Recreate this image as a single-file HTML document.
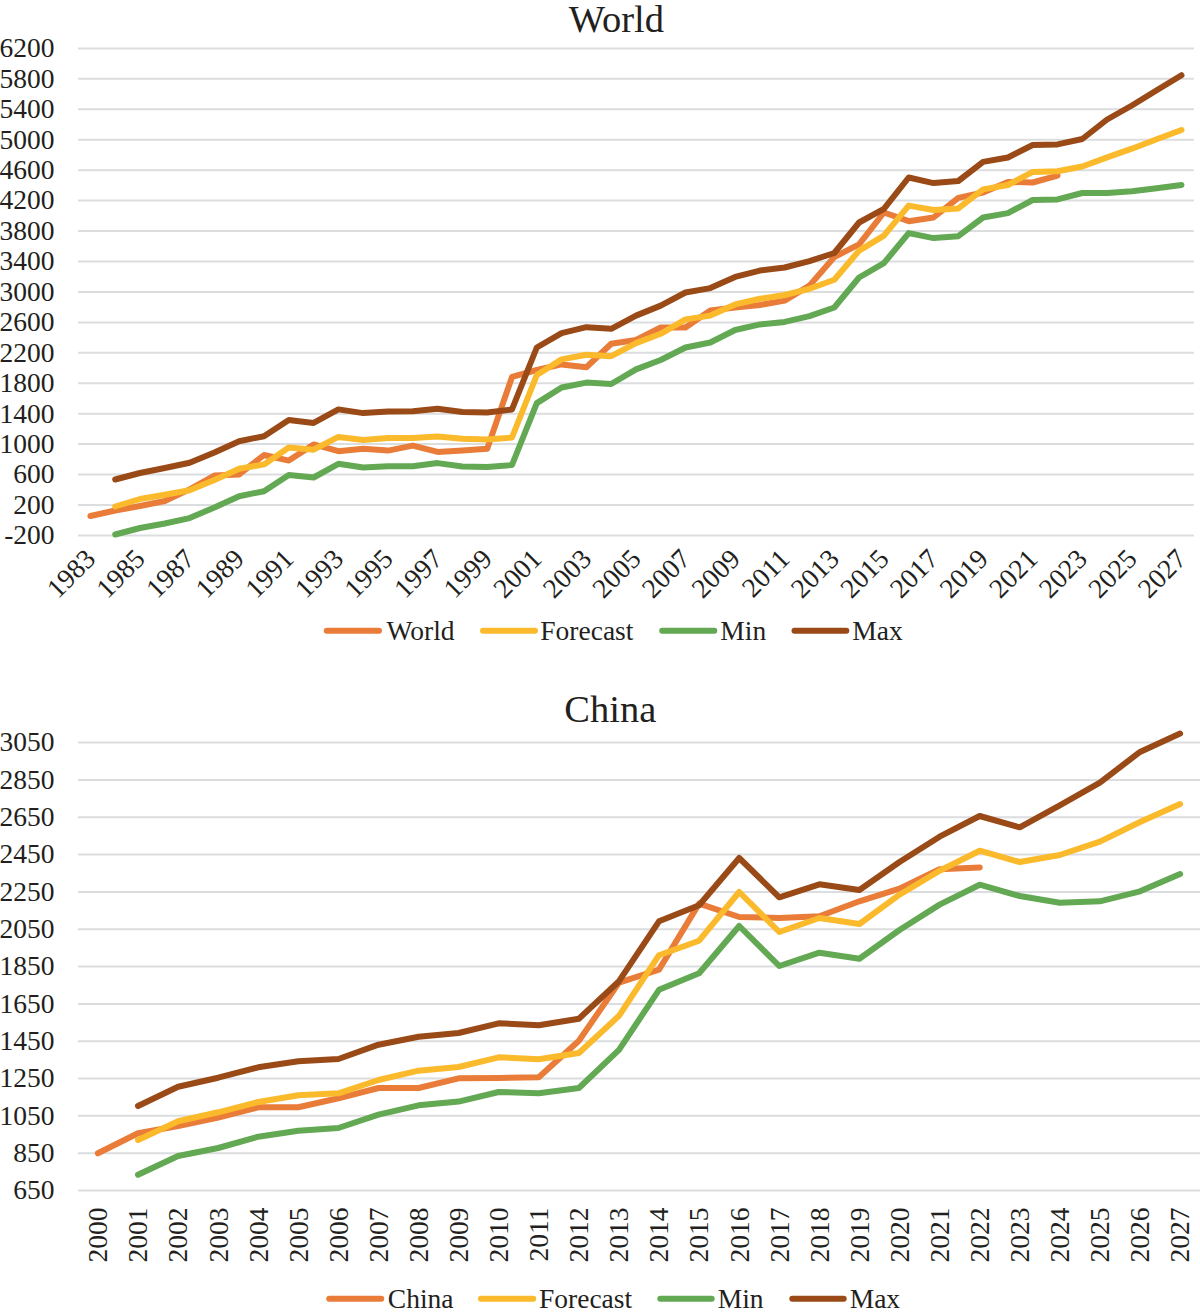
<!DOCTYPE html><html><head><meta charset="utf-8"><title>World and China charts</title>
<style>html,body{margin:0;padding:0;background:#fff;width:1200px;height:1316px;overflow:hidden}svg{display:block} text{font-family:"Liberation Serif", serif;fill:#231F20}</style></head><body>
<svg width="1200" height="1316" viewBox="0 0 1200 1316">
<rect width="1200" height="1316" fill="#fff"/>
<text x="616.3" y="32" font-size="38.5" text-anchor="middle">World</text>
<line x1="78.0" y1="48.4" x2="1193.9" y2="48.4" stroke="#DCDDDF" stroke-width="2"/>
<text x="54.6" y="57.2" font-size="27.5" text-anchor="end">6200</text>
<line x1="78.0" y1="78.8" x2="1193.9" y2="78.8" stroke="#DCDDDF" stroke-width="2"/>
<text x="54.6" y="87.6" font-size="27.5" text-anchor="end">5800</text>
<line x1="78.0" y1="109.3" x2="1193.9" y2="109.3" stroke="#DCDDDF" stroke-width="2"/>
<text x="54.6" y="118.1" font-size="27.5" text-anchor="end">5400</text>
<line x1="78.0" y1="139.7" x2="1193.9" y2="139.7" stroke="#DCDDDF" stroke-width="2"/>
<text x="54.6" y="148.5" font-size="27.5" text-anchor="end">5000</text>
<line x1="78.0" y1="170.2" x2="1193.9" y2="170.2" stroke="#DCDDDF" stroke-width="2"/>
<text x="54.6" y="179.0" font-size="27.5" text-anchor="end">4600</text>
<line x1="78.0" y1="200.6" x2="1193.9" y2="200.6" stroke="#DCDDDF" stroke-width="2"/>
<text x="54.6" y="209.4" font-size="27.5" text-anchor="end">4200</text>
<line x1="78.0" y1="231.0" x2="1193.9" y2="231.0" stroke="#DCDDDF" stroke-width="2"/>
<text x="54.6" y="239.8" font-size="27.5" text-anchor="end">3800</text>
<line x1="78.0" y1="261.5" x2="1193.9" y2="261.5" stroke="#DCDDDF" stroke-width="2"/>
<text x="54.6" y="270.3" font-size="27.5" text-anchor="end">3400</text>
<line x1="78.0" y1="291.9" x2="1193.9" y2="291.9" stroke="#DCDDDF" stroke-width="2"/>
<text x="54.6" y="300.7" font-size="27.5" text-anchor="end">3000</text>
<line x1="78.0" y1="322.4" x2="1193.9" y2="322.4" stroke="#DCDDDF" stroke-width="2"/>
<text x="54.6" y="331.2" font-size="27.5" text-anchor="end">2600</text>
<line x1="78.0" y1="352.8" x2="1193.9" y2="352.8" stroke="#DCDDDF" stroke-width="2"/>
<text x="54.6" y="361.6" font-size="27.5" text-anchor="end">2200</text>
<line x1="78.0" y1="383.2" x2="1193.9" y2="383.2" stroke="#DCDDDF" stroke-width="2"/>
<text x="54.6" y="392.0" font-size="27.5" text-anchor="end">1800</text>
<line x1="78.0" y1="413.7" x2="1193.9" y2="413.7" stroke="#DCDDDF" stroke-width="2"/>
<text x="54.6" y="422.5" font-size="27.5" text-anchor="end">1400</text>
<line x1="78.0" y1="444.1" x2="1193.9" y2="444.1" stroke="#DCDDDF" stroke-width="2"/>
<text x="54.6" y="452.9" font-size="27.5" text-anchor="end">1000</text>
<line x1="78.0" y1="474.6" x2="1193.9" y2="474.6" stroke="#DCDDDF" stroke-width="2"/>
<text x="54.6" y="483.4" font-size="27.5" text-anchor="end">600</text>
<line x1="78.0" y1="505.0" x2="1193.9" y2="505.0" stroke="#DCDDDF" stroke-width="2"/>
<text x="54.6" y="513.8" font-size="27.5" text-anchor="end">200</text>
<line x1="78.0" y1="535.4" x2="1193.9" y2="535.4" stroke="#DCDDDF" stroke-width="2"/>
<text x="54.6" y="544.2" font-size="27.5" text-anchor="end">-200</text>
<text transform="translate(96.9,560.6) rotate(-45)" font-size="27.5" text-anchor="end">1983</text>
<text transform="translate(146.5,560.6) rotate(-45)" font-size="27.5" text-anchor="end">1985</text>
<text transform="translate(196.1,560.6) rotate(-45)" font-size="27.5" text-anchor="end">1987</text>
<text transform="translate(245.7,560.6) rotate(-45)" font-size="27.5" text-anchor="end">1989</text>
<text transform="translate(295.3,560.6) rotate(-45)" font-size="27.5" text-anchor="end">1991</text>
<text transform="translate(344.9,560.6) rotate(-45)" font-size="27.5" text-anchor="end">1993</text>
<text transform="translate(394.5,560.6) rotate(-45)" font-size="27.5" text-anchor="end">1995</text>
<text transform="translate(444.1,560.6) rotate(-45)" font-size="27.5" text-anchor="end">1997</text>
<text transform="translate(493.7,560.6) rotate(-45)" font-size="27.5" text-anchor="end">1999</text>
<text transform="translate(543.3,560.6) rotate(-45)" font-size="27.5" text-anchor="end">2001</text>
<text transform="translate(592.9,560.6) rotate(-45)" font-size="27.5" text-anchor="end">2003</text>
<text transform="translate(642.5,560.6) rotate(-45)" font-size="27.5" text-anchor="end">2005</text>
<text transform="translate(692.0,560.6) rotate(-45)" font-size="27.5" text-anchor="end">2007</text>
<text transform="translate(741.6,560.6) rotate(-45)" font-size="27.5" text-anchor="end">2009</text>
<text transform="translate(791.2,560.6) rotate(-45)" font-size="27.5" text-anchor="end">2011</text>
<text transform="translate(840.8,560.6) rotate(-45)" font-size="27.5" text-anchor="end">2013</text>
<text transform="translate(890.4,560.6) rotate(-45)" font-size="27.5" text-anchor="end">2015</text>
<text transform="translate(940.0,560.6) rotate(-45)" font-size="27.5" text-anchor="end">2017</text>
<text transform="translate(989.6,560.6) rotate(-45)" font-size="27.5" text-anchor="end">2019</text>
<text transform="translate(1039.2,560.6) rotate(-45)" font-size="27.5" text-anchor="end">2021</text>
<text transform="translate(1088.8,560.6) rotate(-45)" font-size="27.5" text-anchor="end">2023</text>
<text transform="translate(1138.4,560.6) rotate(-45)" font-size="27.5" text-anchor="end">2025</text>
<text transform="translate(1188.0,560.6) rotate(-45)" font-size="27.5" text-anchor="end">2027</text>
<polyline points="90.4,516.0 115.2,510.5 140.0,506.0 164.8,501.0 189.6,489.4 214.4,475.6 239.2,474.4 264.0,455.0 288.8,460.6 313.6,444.4 338.4,451.2 363.2,448.8 388.0,450.6 412.8,445.6 437.6,451.9 462.4,450.6 487.2,448.8 512.0,376.9 536.8,370.0 561.6,364.4 586.4,367.3 611.2,343.8 636.0,340.0 660.7,327.5 685.5,327.5 710.3,310.4 735.1,307.5 759.9,305.0 784.7,300.6 809.5,285.6 834.3,257.0 859.1,244.4 883.9,212.5 908.7,221.2 933.5,217.5 958.3,197.9 983.1,192.5 1007.9,181.9 1032.7,182.5 1057.5,175.6" fill="none" stroke="#E97C38" stroke-width="6.0" stroke-linejoin="round" stroke-linecap="round"/>
<polyline points="115.2,506.5 140.0,499.0 164.8,494.8 189.6,490.3 214.4,480.0 239.2,468.8 264.0,464.4 288.8,447.5 313.6,449.7 338.4,436.9 363.2,440.0 388.0,438.1 412.8,438.1 437.6,436.5 462.4,438.8 487.2,439.4 512.0,437.5 536.8,375.0 561.6,359.4 586.4,354.7 611.2,356.2 636.0,343.1 660.7,333.8 685.5,319.4 710.3,315.6 735.1,304.4 759.9,298.8 784.7,295.0 809.5,288.8 834.3,279.7 859.1,250.6 883.9,235.6 908.7,205.6 933.5,210.0 958.3,208.4 983.1,189.4 1007.9,185.0 1032.7,171.9 1057.5,171.2 1082.3,166.5 1107.1,157.4 1131.9,148.7 1156.7,139.3 1181.5,130.0" fill="none" stroke="#FABA2B" stroke-width="6.0" stroke-linejoin="round" stroke-linecap="round"/>
<polyline points="115.2,534.5 140.0,528.0 164.8,523.5 189.6,518.1 214.4,507.5 239.2,496.2 264.0,491.2 288.8,475.0 313.6,477.5 338.4,463.8 363.2,467.5 388.0,466.2 412.8,466.2 437.6,463.1 462.4,466.5 487.2,466.9 512.0,465.0 536.8,403.1 561.6,387.5 586.4,382.6 611.2,384.0 636.0,369.4 660.7,360.0 685.5,347.5 710.3,342.5 735.1,330.0 759.9,324.4 784.7,321.9 809.5,316.2 834.3,307.5 859.1,277.5 883.9,263.1 908.7,233.1 933.5,238.1 958.3,236.2 983.1,217.5 1007.9,213.1 1032.7,200.0 1057.5,199.4 1082.3,193.0 1107.1,193.0 1131.9,191.2 1156.7,188.3 1181.5,185.1" fill="none" stroke="#63A853" stroke-width="6.0" stroke-linejoin="round" stroke-linecap="round"/>
<polyline points="115.2,479.5 140.0,473.0 164.8,468.0 189.6,462.8 214.4,452.5 239.2,441.2 264.0,436.2 288.8,420.0 313.6,422.9 338.4,409.4 363.2,413.1 388.0,411.5 412.8,411.2 437.6,408.8 462.4,412.0 487.2,412.5 512.0,409.4 536.8,347.5 561.6,333.1 586.4,327.2 611.2,328.8 636.0,315.6 660.7,305.6 685.5,292.5 710.3,288.1 735.1,276.9 759.9,270.6 784.7,267.5 809.5,261.2 834.3,253.0 859.1,222.5 883.9,208.8 908.7,177.5 933.5,183.1 958.3,181.0 983.1,161.9 1007.9,157.5 1032.7,145.0 1057.5,144.4 1082.3,139.0 1107.1,119.5 1131.9,105.5 1156.7,90.3 1181.5,75.2" fill="none" stroke="#9A4A17" stroke-width="6.0" stroke-linejoin="round" stroke-linecap="round"/>
<line x1="326.75" y1="630.8" x2="379" y2="630.8" stroke="#E97C38" stroke-width="6.0" stroke-linecap="round"/>
<text x="386.5" y="640.0999999999999" font-size="27.5">World</text>
<line x1="483" y1="630.8" x2="535" y2="630.8" stroke="#FABA2B" stroke-width="6.0" stroke-linecap="round"/>
<text x="540.3" y="640.0999999999999" font-size="27.5">Forecast</text>
<line x1="662.2" y1="630.8" x2="714.3" y2="630.8" stroke="#63A853" stroke-width="6.0" stroke-linecap="round"/>
<text x="720.3" y="640.0999999999999" font-size="27.5">Min</text>
<line x1="794.5" y1="630.8" x2="846.3" y2="630.8" stroke="#9A4A17" stroke-width="6.0" stroke-linecap="round"/>
<text x="852.3" y="640.0999999999999" font-size="27.5">Max</text>
<text x="610.3" y="722" font-size="38.5" text-anchor="middle">China</text>
<line x1="77.9" y1="742.6" x2="1200.1" y2="742.6" stroke="#DCDDDF" stroke-width="2"/>
<text x="54.6" y="751.4" font-size="27.5" text-anchor="end">3050</text>
<line x1="77.9" y1="779.9" x2="1200.1" y2="779.9" stroke="#DCDDDF" stroke-width="2"/>
<text x="54.6" y="788.7" font-size="27.5" text-anchor="end">2850</text>
<line x1="77.9" y1="817.2" x2="1200.1" y2="817.2" stroke="#DCDDDF" stroke-width="2"/>
<text x="54.6" y="826.0" font-size="27.5" text-anchor="end">2650</text>
<line x1="77.9" y1="854.6" x2="1200.1" y2="854.6" stroke="#DCDDDF" stroke-width="2"/>
<text x="54.6" y="863.4" font-size="27.5" text-anchor="end">2450</text>
<line x1="77.9" y1="891.9" x2="1200.1" y2="891.9" stroke="#DCDDDF" stroke-width="2"/>
<text x="54.6" y="900.7" font-size="27.5" text-anchor="end">2250</text>
<line x1="77.9" y1="929.2" x2="1200.1" y2="929.2" stroke="#DCDDDF" stroke-width="2"/>
<text x="54.6" y="938.0" font-size="27.5" text-anchor="end">2050</text>
<line x1="77.9" y1="966.6" x2="1200.1" y2="966.6" stroke="#DCDDDF" stroke-width="2"/>
<text x="54.6" y="975.4" font-size="27.5" text-anchor="end">1850</text>
<line x1="77.9" y1="1003.9" x2="1200.1" y2="1003.9" stroke="#DCDDDF" stroke-width="2"/>
<text x="54.6" y="1012.7" font-size="27.5" text-anchor="end">1650</text>
<line x1="77.9" y1="1041.2" x2="1200.1" y2="1041.2" stroke="#DCDDDF" stroke-width="2"/>
<text x="54.6" y="1050.0" font-size="27.5" text-anchor="end">1450</text>
<line x1="77.9" y1="1078.5" x2="1200.1" y2="1078.5" stroke="#DCDDDF" stroke-width="2"/>
<text x="54.6" y="1087.3" font-size="27.5" text-anchor="end">1250</text>
<line x1="77.9" y1="1115.8" x2="1200.1" y2="1115.8" stroke="#DCDDDF" stroke-width="2"/>
<text x="54.6" y="1124.6" font-size="27.5" text-anchor="end">1050</text>
<line x1="77.9" y1="1153.2" x2="1200.1" y2="1153.2" stroke="#DCDDDF" stroke-width="2"/>
<text x="54.6" y="1162.0" font-size="27.5" text-anchor="end">850</text>
<line x1="77.9" y1="1190.5" x2="1200.1" y2="1190.5" stroke="#DCDDDF" stroke-width="2"/>
<text x="54.6" y="1199.3" font-size="27.5" text-anchor="end">650</text>
<text transform="translate(107.2,1207.4) rotate(-90)" font-size="27.5" text-anchor="end">2000</text>
<text transform="translate(147.3,1207.4) rotate(-90)" font-size="27.5" text-anchor="end">2001</text>
<text transform="translate(187.4,1207.4) rotate(-90)" font-size="27.5" text-anchor="end">2002</text>
<text transform="translate(227.5,1207.4) rotate(-90)" font-size="27.5" text-anchor="end">2003</text>
<text transform="translate(267.6,1207.4) rotate(-90)" font-size="27.5" text-anchor="end">2004</text>
<text transform="translate(307.6,1207.4) rotate(-90)" font-size="27.5" text-anchor="end">2005</text>
<text transform="translate(347.7,1207.4) rotate(-90)" font-size="27.5" text-anchor="end">2006</text>
<text transform="translate(387.8,1207.4) rotate(-90)" font-size="27.5" text-anchor="end">2007</text>
<text transform="translate(427.9,1207.4) rotate(-90)" font-size="27.5" text-anchor="end">2008</text>
<text transform="translate(467.9,1207.4) rotate(-90)" font-size="27.5" text-anchor="end">2009</text>
<text transform="translate(508.0,1207.4) rotate(-90)" font-size="27.5" text-anchor="end">2010</text>
<text transform="translate(548.1,1207.4) rotate(-90)" font-size="27.5" text-anchor="end">2011</text>
<text transform="translate(588.2,1207.4) rotate(-90)" font-size="27.5" text-anchor="end">2012</text>
<text transform="translate(628.3,1207.4) rotate(-90)" font-size="27.5" text-anchor="end">2013</text>
<text transform="translate(668.3,1207.4) rotate(-90)" font-size="27.5" text-anchor="end">2014</text>
<text transform="translate(708.4,1207.4) rotate(-90)" font-size="27.5" text-anchor="end">2015</text>
<text transform="translate(748.5,1207.4) rotate(-90)" font-size="27.5" text-anchor="end">2016</text>
<text transform="translate(788.6,1207.4) rotate(-90)" font-size="27.5" text-anchor="end">2017</text>
<text transform="translate(828.7,1207.4) rotate(-90)" font-size="27.5" text-anchor="end">2018</text>
<text transform="translate(868.7,1207.4) rotate(-90)" font-size="27.5" text-anchor="end">2019</text>
<text transform="translate(908.8,1207.4) rotate(-90)" font-size="27.5" text-anchor="end">2020</text>
<text transform="translate(948.9,1207.4) rotate(-90)" font-size="27.5" text-anchor="end">2021</text>
<text transform="translate(989.0,1207.4) rotate(-90)" font-size="27.5" text-anchor="end">2022</text>
<text transform="translate(1029.0,1207.4) rotate(-90)" font-size="27.5" text-anchor="end">2023</text>
<text transform="translate(1069.1,1207.4) rotate(-90)" font-size="27.5" text-anchor="end">2024</text>
<text transform="translate(1109.2,1207.4) rotate(-90)" font-size="27.5" text-anchor="end">2025</text>
<text transform="translate(1149.3,1207.4) rotate(-90)" font-size="27.5" text-anchor="end">2026</text>
<text transform="translate(1189.4,1207.4) rotate(-90)" font-size="27.5" text-anchor="end">2027</text>
<polyline points="97.9,1153.3 138.0,1133.3 178.1,1126.0 218.2,1117.5 258.3,1107.3 298.3,1107.3 338.4,1098.3 378.5,1088.0 418.6,1088.0 458.6,1078.3 498.7,1078.0 538.8,1077.3 578.9,1040.8 619.0,982.6 659.0,969.6 699.1,903.6 739.2,917.0 779.3,918.0 819.4,916.3 859.4,901.3 899.5,888.7 939.6,869.3 979.7,867.5" fill="none" stroke="#E97C38" stroke-width="6.0" stroke-linejoin="round" stroke-linecap="round"/>
<polyline points="138.0,1140.0 178.1,1121.3 218.2,1112.3 258.3,1102.0 298.3,1095.3 338.4,1093.3 378.5,1080.0 418.6,1070.7 458.6,1067.0 498.7,1057.3 538.8,1059.3 578.9,1053.0 619.0,1015.8 659.0,955.2 699.1,940.7 739.2,892.0 779.3,932.0 819.4,918.0 859.4,924.0 899.5,894.7 939.6,870.7 979.7,850.7 1019.7,862.0 1059.8,855.0 1099.9,841.6 1140.0,822.0 1180.1,804.0" fill="none" stroke="#FABA2B" stroke-width="6.0" stroke-linejoin="round" stroke-linecap="round"/>
<polyline points="138.0,1174.7 178.1,1156.0 218.2,1148.0 258.3,1136.7 298.3,1130.7 338.4,1128.0 378.5,1114.7 418.6,1105.3 458.6,1101.6 498.7,1092.0 538.8,1093.3 578.9,1088.0 619.0,1049.8 659.0,989.8 699.1,973.3 739.2,926.0 779.3,966.0 819.4,952.7 859.4,958.7 899.5,930.0 939.6,904.6 979.7,884.7 1019.7,896.0 1059.8,902.7 1099.9,901.3 1140.0,891.3 1180.1,874.0" fill="none" stroke="#63A853" stroke-width="6.0" stroke-linejoin="round" stroke-linecap="round"/>
<polyline points="138.0,1106.0 178.1,1086.7 218.2,1077.7 258.3,1067.3 298.3,1061.3 338.4,1059.0 378.5,1044.7 418.6,1036.7 458.6,1033.0 498.7,1023.3 538.8,1025.3 578.9,1018.7 619.0,981.2 659.0,921.3 699.1,905.3 739.2,858.0 779.3,897.3 819.4,884.3 859.4,890.0 899.5,862.0 939.6,836.7 979.7,816.0 1019.7,827.3 1059.8,805.3 1099.9,782.6 1140.0,751.9 1180.1,733.5" fill="none" stroke="#9A4A17" stroke-width="6.0" stroke-linejoin="round" stroke-linecap="round"/>
<line x1="329.25" y1="1298.7" x2="381.25" y2="1298.7" stroke="#E97C38" stroke-width="6.0" stroke-linecap="round"/>
<text x="387.8" y="1308.0" font-size="27.5">China</text>
<line x1="481" y1="1298.7" x2="533.25" y2="1298.7" stroke="#FABA2B" stroke-width="6.0" stroke-linecap="round"/>
<text x="539" y="1308.0" font-size="27.5">Forecast</text>
<line x1="660.3" y1="1298.7" x2="711.7" y2="1298.7" stroke="#63A853" stroke-width="6.0" stroke-linecap="round"/>
<text x="717.7" y="1308.0" font-size="27.5">Min</text>
<line x1="792.3" y1="1298.7" x2="843.7" y2="1298.7" stroke="#9A4A17" stroke-width="6.0" stroke-linecap="round"/>
<text x="849.7" y="1308.0" font-size="27.5">Max</text>
</svg></body></html>
